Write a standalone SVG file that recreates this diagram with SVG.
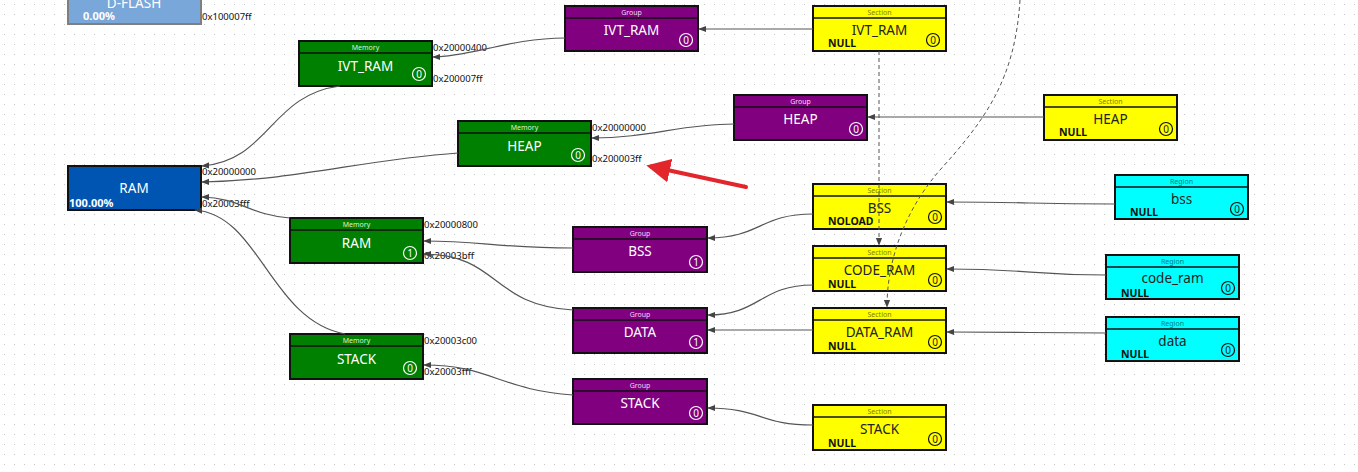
<svg xmlns="http://www.w3.org/2000/svg" width="1358" height="472" viewBox="0 0 1358 472">
<defs>
<pattern id="grid" x="0" y="0" width="10" height="10" patternUnits="userSpaceOnUse">
<rect x="4" y="4" width="1" height="1" fill="#c4c4c4"/>
</pattern>
<marker id="arr" viewBox="0 0 10 10" refX="9" refY="5" markerWidth="8" markerHeight="8" markerUnits="userSpaceOnUse" orient="auto">
<path d="M0,1 L10,5 L0,9 z" fill="#444"/>
</marker>
<marker id="red" viewBox="0 0 10 10" refX="8" refY="5" markerWidth="6" markerHeight="6" orient="auto">
<path d="M0,0 L10,5 L0,10 z" fill="#e3262b"/>
</marker>
</defs>
<style>
text{font-family:"Noto Sans","Open Sans","Liberation Sans",sans-serif}
.box{stroke:#111;stroke-width:2}
.mem{fill:#008000}
.grp{fill:#800080}
.sec{fill:#ffff00}
.reg{fill:#00ffff}
.hl{stroke:#111;stroke-width:1.5}
.hd{font-size:7px;text-anchor:middle}
.hw{fill:#d8f0d8}
.hp{fill:#f0d8f0}
.hy{fill:#808000}
.hc{fill:#008080}
.ml{font-size:13.5px;text-anchor:middle}
.w{fill:#fff}
.k{fill:#222}
.nl{font-size:10.5px;font-weight:bold;fill:#111}
.bw{fill:none;stroke:#fff;stroke-width:1.2}
.bk{fill:none;stroke:#111;stroke-width:1.2}
.bt{font-size:10px;text-anchor:middle}
.addr{font-size:9.5px;fill:#111}
.c{fill:none;stroke:#555;stroke-width:1.2;marker-end:url(#arr)}
.d{fill:none;stroke:#555;stroke-width:1;stroke-dasharray:4,3;marker-end:url(#arr)}
</style>
<rect width="1358" height="472" fill="#ffffff"/>
<rect width="1358" height="472" fill="url(#grid)"/>

<g id="dflash">
<rect x="68" y="-21" width="133" height="45" fill="#7aa7d9" stroke="#7f7f7f" stroke-width="2"/>
<text x="134" y="8" class="ml w">D-FLASH</text>
<text x="83" y="20" font-size="11" font-weight="bold" fill="#fff">0.00%</text>
<text x="202" y="20" class="addr">0x100007ff</text>
</g>

<g id="ram">
<rect x="68" y="166" width="133" height="44" fill="#0055b3" stroke="#111" stroke-width="2"/>
<text x="134" y="193" class="ml w">RAM</text>
<text x="69" y="207" font-size="11" font-weight="bold" fill="#fff">100.00%</text>
<text x="202" y="175" class="addr">0x20000000</text>
<text x="202" y="207" class="addr">0x20003fff</text>
</g>

<g id="mem-ivt">
<rect x="299" y="41" width="133" height="45" class="box mem"/>
<line x1="299" y1="53" x2="432" y2="53" class="hl"/>
<text x="365.5" y="50" class="hd hw">Memory</text>
<text x="365.5" y="71" class="ml w">IVT_RAM</text>
<circle cx="419" cy="74" r="6.5" class="bw"/><text x="419" y="77.5" class="bt w">0</text>
<text x="433" y="51" class="addr">0x20000400</text>
<text x="433" y="82" class="addr">0x200007ff</text>
</g>

<g id="mem-heap">
<rect x="458" y="121" width="133" height="45" class="box mem"/>
<line x1="458" y1="133" x2="591" y2="133" class="hl"/>
<text x="524.5" y="130" class="hd hw">Memory</text>
<text x="524.5" y="151" class="ml w">HEAP</text>
<circle cx="578" cy="155" r="6.5" class="bw"/><text x="578" y="158.5" class="bt w">0</text>
<text x="592" y="131" class="addr">0x20000000</text>
<text x="592" y="162" class="addr">0x200003ff</text>
</g>

<g id="mem-ram">
<rect x="290" y="218" width="133" height="45" class="box mem"/>
<line x1="290" y1="230" x2="423" y2="230" class="hl"/>
<text x="356.5" y="227" class="hd hw">Memory</text>
<text x="356.5" y="248" class="ml w">RAM</text>
<circle cx="410" cy="253" r="6.5" class="bw"/><text x="410" y="256.5" class="bt w">1</text>
<text x="424" y="228" class="addr">0x20000800</text>
<text x="424" y="259" class="addr">0x20003bff</text>
</g>

<g id="mem-stack">
<rect x="290" y="334" width="133" height="45" class="box mem"/>
<line x1="290" y1="346" x2="423" y2="346" class="hl"/>
<text x="356.5" y="343" class="hd hw">Memory</text>
<text x="356.5" y="364" class="ml w">STACK</text>
<circle cx="410" cy="368" r="6.5" class="bw"/><text x="410" y="371.5" class="bt w">0</text>
<text x="424" y="344" class="addr">0x20003c00</text>
<text x="424" y="375" class="addr">0x20003fff</text>
</g>

<g id="grp-ivt">
<rect x="565" y="6" width="133" height="45" class="box grp"/>
<line x1="565" y1="18" x2="698" y2="18" class="hl"/>
<text x="631.5" y="15" class="hd hp">Group</text>
<text x="631.5" y="35" class="ml w">IVT_RAM</text>
<circle cx="686" cy="40" r="6.5" class="bw"/><text x="686" y="43.5" class="bt w">0</text>
</g>

<g id="grp-heap">
<rect x="734" y="95" width="133" height="45" class="box grp"/>
<line x1="734" y1="107" x2="867" y2="107" class="hl"/>
<text x="800.5" y="104" class="hd hp">Group</text>
<text x="800.5" y="124" class="ml w">HEAP</text>
<circle cx="856" cy="129" r="6.5" class="bw"/><text x="856" y="132.5" class="bt w">0</text>
</g>

<g id="grp-bss">
<rect x="573" y="227" width="134" height="45" class="box grp"/>
<line x1="573" y1="239" x2="707" y2="239" class="hl"/>
<text x="640" y="236" class="hd hp">Group</text>
<text x="640" y="256" class="ml w">BSS</text>
<circle cx="696" cy="262" r="6.5" class="bw"/><text x="696" y="265.5" class="bt w">1</text>
</g>

<g id="grp-data">
<rect x="573" y="308" width="134" height="45" class="box grp"/>
<line x1="573" y1="320" x2="707" y2="320" class="hl"/>
<text x="640" y="317" class="hd hp">Group</text>
<text x="640" y="337" class="ml w">DATA</text>
<circle cx="696" cy="342" r="6.5" class="bw"/><text x="696" y="345.5" class="bt w">1</text>
</g>

<g id="grp-stack">
<rect x="573" y="379" width="134" height="45" class="box grp"/>
<line x1="573" y1="391" x2="707" y2="391" class="hl"/>
<text x="640" y="388" class="hd hp">Group</text>
<text x="640" y="408" class="ml w">STACK</text>
<circle cx="696" cy="413" r="6.5" class="bw"/><text x="696" y="416.5" class="bt w">0</text>
</g>

<g id="sec-ivt">
<rect x="813" y="6" width="133" height="45" class="box sec"/>
<line x1="813" y1="18" x2="946" y2="18" class="hl"/>
<text x="879.5" y="15" class="hd hy">Section</text>
<text x="879.5" y="35" class="ml k">IVT_RAM</text>
<text x="828" y="47" class="nl">NULL</text>
<circle cx="933" cy="40" r="6.5" class="bk"/><text x="933" y="43.5" class="bt k">0</text>
</g>

<g id="sec-heap">
<rect x="1044" y="95" width="133" height="45" class="box sec"/>
<line x1="1044" y1="107" x2="1177" y2="107" class="hl"/>
<text x="1110.5" y="104" class="hd hy">Section</text>
<text x="1110.5" y="124" class="ml k">HEAP</text>
<text x="1059" y="136" class="nl">NULL</text>
<circle cx="1166" cy="129" r="6.5" class="bk"/><text x="1166" y="132.5" class="bt k">0</text>
</g>

<g id="sec-bss">
<rect x="813" y="184" width="133" height="45" class="box sec"/>
<line x1="813" y1="196" x2="946" y2="196" class="hl"/>
<text x="879.5" y="193" class="hd hy">Section</text>
<text x="879.5" y="213" class="ml k">BSS</text>
<text x="828" y="225" class="nl">NOLOAD</text>
<circle cx="935" cy="217" r="6.5" class="bk"/><text x="935" y="220.5" class="bt k">0</text>
</g>

<g id="sec-code">
<rect x="813" y="246" width="133" height="45" class="box sec"/>
<line x1="813" y1="258" x2="946" y2="258" class="hl"/>
<text x="879.5" y="255" class="hd hy">Section</text>
<text x="879.5" y="275" class="ml k">CODE_RAM</text>
<text x="828" y="287.5" class="nl">NULL</text>
<circle cx="935" cy="280" r="6.5" class="bk"/><text x="935" y="283.5" class="bt k">0</text>
</g>

<g id="sec-data">
<rect x="813" y="308" width="133" height="45" class="box sec"/>
<line x1="813" y1="320" x2="946" y2="320" class="hl"/>
<text x="879.5" y="317" class="hd hy">Section</text>
<text x="879.5" y="337" class="ml k">DATA_RAM</text>
<text x="828" y="349.5" class="nl">NULL</text>
<circle cx="935" cy="342" r="6.5" class="bk"/><text x="935" y="345.5" class="bt k">0</text>
</g>

<g id="sec-stack">
<rect x="813" y="405" width="133" height="45" class="box sec"/>
<line x1="813" y1="417" x2="946" y2="417" class="hl"/>
<text x="879.5" y="414" class="hd hy">Section</text>
<text x="879.5" y="434" class="ml k">STACK</text>
<text x="828" y="446.5" class="nl">NULL</text>
<circle cx="935" cy="439" r="6.5" class="bk"/><text x="935" y="442.5" class="bt k">0</text>
</g>

<g id="reg-bss">
<rect x="1115" y="175" width="133" height="44" class="box reg"/>
<line x1="1115" y1="187" x2="1248" y2="187" class="hl"/>
<text x="1181.5" y="184" class="hd hc">Region</text>
<text x="1181.5" y="204" class="ml k">bss</text>
<text x="1130" y="216" class="nl">NULL</text>
<circle cx="1237" cy="209" r="6.5" class="bk"/><text x="1237" y="212.5" class="bt k">0</text>
</g>

<g id="reg-code">
<rect x="1106" y="255" width="133" height="44" class="box reg"/>
<line x1="1106" y1="267" x2="1239" y2="267" class="hl"/>
<text x="1172.5" y="264" class="hd hc">Region</text>
<text x="1172.5" y="283" class="ml k">code_ram</text>
<text x="1121" y="296.5" class="nl">NULL</text>
<circle cx="1228" cy="288" r="6.5" class="bk"/><text x="1228" y="291.5" class="bt k">0</text>
</g>

<g id="reg-data">
<rect x="1106" y="317" width="133" height="44" class="box reg"/>
<line x1="1106" y1="329" x2="1239" y2="329" class="hl"/>
<text x="1172.5" y="326" class="hd hc">Region</text>
<text x="1172.5" y="346" class="ml k">data</text>
<text x="1121" y="358" class="nl">NULL</text>
<circle cx="1228" cy="350" r="6.5" class="bk"/><text x="1228" y="353.5" class="bt k">0</text>
</g>

<g id="connectors">
<path class="c" d="M565,38 C510,38 470,57 433,57"/>
<path class="c" d="M813,29 L699,29"/>
<path class="c" d="M340,86 C270,95 270,160 202,166"/>
<path class="c" d="M734,124 C680,124 650,138 592,138"/>
<path class="c" d="M1044,117 L868,117"/>
<path class="c" d="M458,153 C360,160 300,180 202,182"/>
<path class="c" d="M290,218 C250,215 240,198 202,197"/>
<path class="c" d="M345,334 C270,320 260,215 195,210"/>
<path class="c" d="M573,248 C500,248 480,241 424,241"/>
<path class="c" d="M573,310 C490,305 500,255 424,254"/>
<path class="c" d="M813,214 C760,214 760,238 708,238"/>
<path class="c" d="M813,285 C760,285 760,315 708,315"/>
<path class="c" d="M813,330 L708,330"/>
<path class="c" d="M813,425 C760,425 760,408 708,408"/>
<path class="c" d="M573,395 C500,390 490,365 424,365"/>
<path class="c" d="M1115,204 C1030,204 1030,202 947,202"/>
<path class="c" d="M1106,275 C1030,275 1030,269 947,269"/>
<path class="c" d="M1106,333 C1030,333 1030,332 947,332"/>
<path class="d" d="M879,51 L879,245"/>
<path class="d" d="M1020,0 C1015,80 985,120 940,170 C905,210 887,260 887,307"/>
<line x1="746" y1="187" x2="651" y2="166.5" stroke="#e3262b" stroke-width="4" stroke-linecap="round" marker-end="url(#red)"/>
</g>
</svg>
